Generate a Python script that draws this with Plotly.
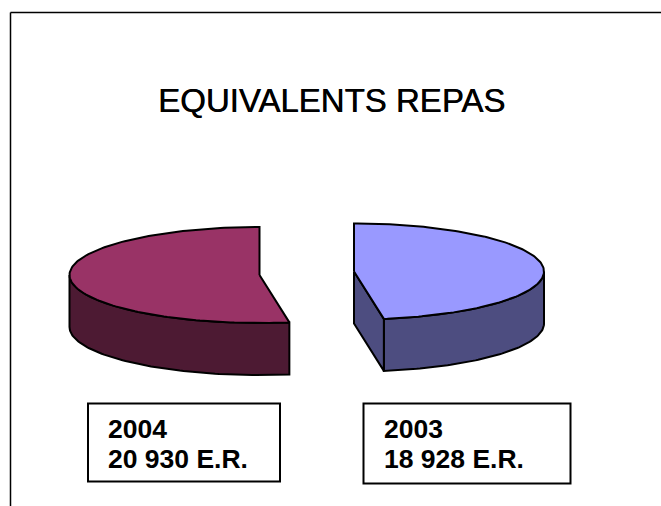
import numpy as np
import plotly.graph_objects as go

title = "EQUIVALENTS REPAS"
years = ["2004", "2003"]
values = [20930, 18928]
value_labels = ["20 930 E.R.", "18 928 E.R."]
top_colors = ["#993366", "#9999FF"]
wall_colors = ["#4D1A33", "#4D4D80"]

W, H = 661, 506
RX, RY, DEPTH = 190, 48, 52
centers = [(259.5, 275), (354, 271.5)]
LINE = dict(color="black", width=2)

fig = go.Figure()


def poly(xs, ys, color):
    fig.add_trace(go.Scatter(x=list(xs), y=list(ys), mode="lines", fill="toself",
                             fillcolor=color, line=LINE, hoverinfo="skip",
                             showlegend=False))


total = sum(values)
spans = [v / total * 360 for v in values]

# 2004 sweeps counter-clockwise from 12 o'clock, 2003 clockwise.
for i, (span, sign) in enumerate(zip(spans, [-1, 1])):
    cx, cy = centers[i]
    t = np.radians(np.linspace(0, span, 160))
    ax = cx + sign * RX * np.sin(t)
    ay = cy - RY * np.cos(t)
    # visible rim: from the widest point of the ellipse to the end of the slice
    vis = np.radians(np.linspace(90, span, 80))
    vx = cx + sign * RX * np.sin(vis)
    vy = cy - RY * np.cos(vis)
    poly(np.r_[vx, vx[::-1], vx[0]], np.r_[vy, vy[::-1] + DEPTH, vy[0]], wall_colors[i])
    if sign > 0:
        # exposed cut face of the slice that ends past the front
        poly([cx, ax[-1], ax[-1], cx, cx], [cy, ay[-1], ay[-1] + DEPTH, cy + DEPTH, cy], wall_colors[i])
    poly(np.r_[cx, ax, cx], np.r_[cy, ay, cy], top_colors[i])

# page frame
fig.add_shape(type="line", x0=10.5, x1=661, y0=12.5, y1=12.5, line=dict(color="black", width=1.5))
fig.add_shape(type="line", x0=10.5, x1=10.5, y0=12.5, y1=506, line=dict(color="black", width=1.5))

boxes = [(88, 280, 403.5, 481.5), (363.5, 570.5, 403.5, 483.5)]
text_x = [105.5, 381.5]
for i, (x0, x1, y0, y1) in enumerate(boxes):
    fig.add_shape(type="rect", x0=x0, x1=x1, y0=y0, y1=y1,
                  line=dict(color="black", width=2), fillcolor="white")
    for txt, y in ((years[i], 429), (value_labels[i], 459)):
        fig.add_annotation(x=text_x[i], y=y, text=f"<b>{txt}</b>", showarrow=False,
                           xanchor="left", yanchor="middle",
                           font=dict(family="Liberation Sans", size=26.5, color="black"))

fig.add_annotation(x=331, y=100.5, text=title, showarrow=False, xanchor="center", yanchor="middle",
                   font=dict(family="Liberation Sans", size=33, color="black",
                             shadow="0.5px 0 0 black"))

fig.update_layout(width=W, height=H, margin=dict(l=0, r=0, t=0, b=0),
                  paper_bgcolor="white", plot_bgcolor="white",
                  xaxis=dict(range=[0, W], visible=False, fixedrange=True),
                  yaxis=dict(range=[H, 0], visible=False, fixedrange=True))
fig.write_html("out.html", config=dict(displayModeBar=False),
               post_script="document.body.style.margin='0';document.documentElement.style.overflow='hidden';")
